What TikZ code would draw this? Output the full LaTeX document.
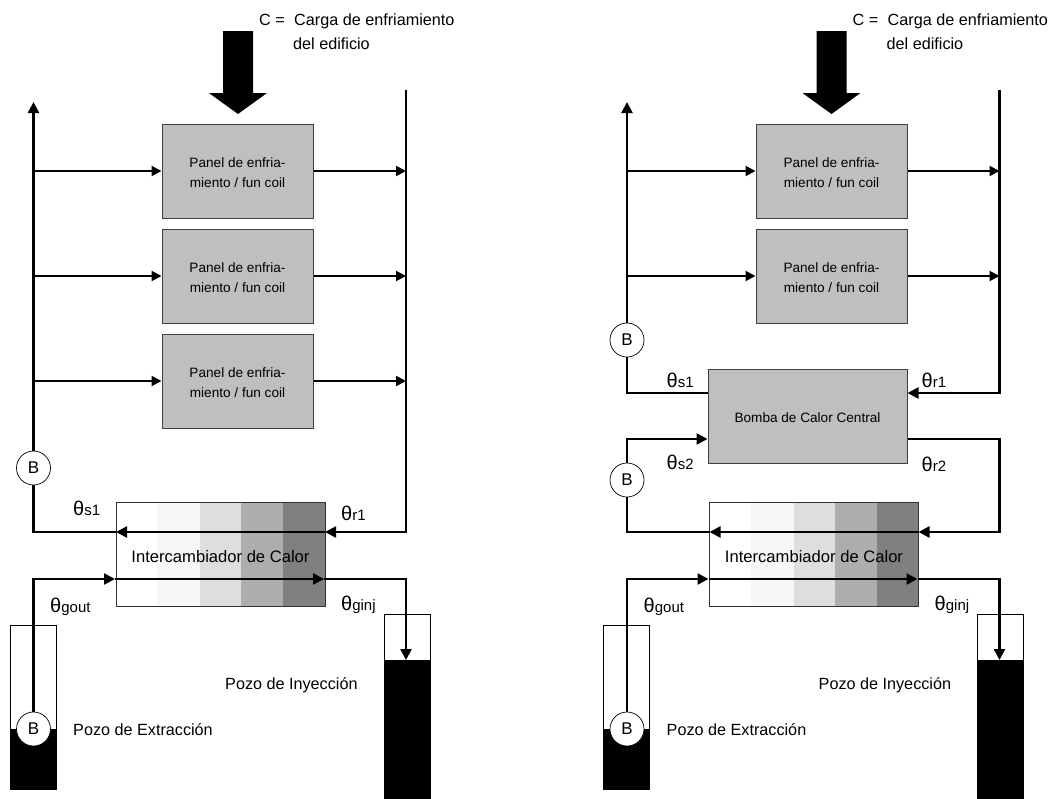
\documentclass[tikz,border=0pt]{standalone}
\usepackage{fontspec}
\setmainfont{Liberation Sans}
\usetikzlibrary{arrows.meta,calc}
\tikzset{
  pipe/.style={line width=2.4pt,line join=miter},
  flow/.style={pipe,-{Triangle[length=11pt,width=11pt]}},
  branch/.style={line width=2pt,-{Triangle[length=10pt,width=10pt]}},
  panelbox/.style={draw=black!75,line width=1pt,fill=black!25,minimum width=151pt,minimum height=94pt,inner sep=0pt,align=center,font=\fontsize{13.6}{20}\selectfont},
  pump/.style={circle,draw=black,line width=.7pt,fill=white,minimum size=34pt,inner sep=0pt,font=\fontsize{17}{17}\selectfont},
  lbl/.style={anchor=base west,inner sep=0pt,font=\fontsize{16.2}{16.2}\selectfont},
  theta/.style={anchor=base west,inner sep=0pt,font=\fontsize{20}{20}\selectfont},
  wellbox/.style={draw=black,line width=.8pt,fill=white},
}
\newcommand{\thsub}[1]{θ{\fontsize{15}{15}\selectfont #1}}
\newcommand{\panelname}{\rule{0pt}{13pt}Panel de enfria-\\miento / fun coil}
\newcommand{\common}{%
  % big load arrow
  \fill[black] (223,31) -- (253,31) -- (253,93) -- (267,93) -- (238,114) -- (209,93) -- (223,93) -- cycle;
  \node[lbl] (cA) at (259,25) {C =};
  \node[lbl] (cB) at (294,25) {Carga de enfriamiento};
  \node[lbl] (cC) at (293,49) {del edificio};
  % heat exchanger
  \fill[white] (116,502) rectangle (157,606);
  \fill[black!3] (157,502) rectangle (200,606);
  \fill[black!13] (200,502) rectangle (241,606);
  \fill[black!32] (241,502) rectangle (283,606);
  \fill[black!50] (283,502) rectangle (325,606);
  \node[draw=black!80,line width=1pt,minimum width=209pt,minimum height=104pt,inner sep=0pt,font=\fontsize{16.6}{16.6}\selectfont] (ex) at (220.5,554) {\rule{0pt}{18pt}Intercambiador de Calor};
  \coordinate (exWa) at (116,532);
  \coordinate (exEa) at (325,532);
  \coordinate (exWb) at (115,579);
  \coordinate (exEb) at (324,579);
  \draw[flow] (exEa) -- (exWa);
  \draw[flow] (exWb) -- (exEb);
  % wells
  \draw[wellbox] (10,625) rectangle (56,789);
  \fill[black] (10,729) rectangle (56,789);
  \draw[wellbox] (384,614) rectangle (430,798);
  \fill[black] (384,660) rectangle (430,798);
  \node[pump] (bw) at (33.5,729) {B};
  \coordinate (outc) at (33.5,579);
  \coordinate (injc) at (406,579);
  \coordinate (injt) at (406,660);
  \draw[flow] (bw.north) -- (outc) -- (exWb);
  \draw[flow] (exEb) -- (injc) -- (injt);
  % labels
  \node[theta] (tgo) at (50,612) {\thsub{gout}};
  \node[theta] (tgi) at (341,610) {\thsub{ginj}};
  \node[lbl] (pe) at (73,735) {Pozo de Extracción};
  \node[lbl] (pi) at (225,689) {Pozo de Inyección};
}
\begin{document}
\begin{tikzpicture}[x=1pt,y=-1pt]
\useasboundingbox (0,0) rectangle (1051,798);
\fill[white] (0,0) rectangle (1051,798);
% ===== left plant =====
\begin{scope}[name prefix=L-]
  \common
  \node[panelbox] (p1) at (237.5,171) {\panelname};
  \node[panelbox] (p2) at (237.5,276) {\panelname};
  \node[panelbox] (p3) at (237.5,381) {\panelname};
  \node[pump] (b) at (33.5,468) {B};
  \coordinate (top) at (33.5,102);
  \coordinate (rtop) at (406,90);
  \coordinate (lc) at (33.5,532);
  \coordinate (rc) at (406,532);
  \draw[pipe] (exWa) -- (lc) -- (b.south);
  \draw[flow] (b.north) -- (top);
  \draw[flow] (rtop) -- (rc) -- (exEa);
  \foreach \n in {p1,p2,p3}{
    \draw[branch] (lc|-\n.west) -- (\n.west);
    \draw[branch] (\n.east) -- (rc|-\n.east);
  }
  \node[theta] (ts) at (73,515) {\thsub{s1}};
  \node[theta] (tr) at (341,520) {\thsub{r1}};
\end{scope}
% ===== right plant =====
\begin{scope}[xshift=593.5pt,name prefix=R-]
  \common
  \node[panelbox] (p1) at (238,171) {\panelname};
  \node[panelbox] (p2) at (238,276) {\panelname};
  \node[panelbox,minimum width=199pt,minimum height=94pt] (hp) at (214,416) {\rule{0pt}{14pt}Bomba de Calor Central};
  \node[pump] (b1) at (33.5,340) {B};
  \node[pump] (b2) at (33.5,480) {B};
  \coordinate (top) at (33.5,102);
  \coordinate (rtop) at (406,90);
  \coordinate (l1) at (33.5,393);
  \coordinate (r1) at (406,393);
  \coordinate (l2) at (33.5,439);
  \coordinate (r2) at (406,439);
  \coordinate (lc) at (33.5,532);
  \coordinate (rc) at (406,532);
  \draw[pipe] (hp.west|-l1) -- (l1) -- (b1.south);
  \draw[flow] (b1.north) -- (top);
  \draw[flow] (rtop) -- (r1) -- (hp.east|-r1);
  \draw[flow] (hp.east|-r2) -- (r2) -- (rc) -- (exEa);
  \draw[pipe] (exWa) -- (lc) -- (b2.south);
  \draw[flow] (b2.north) -- (l2) -- (hp.west|-l2);
  \foreach \n in {p1,p2}{
    \draw[branch] (top|-\n.west) -- (\n.west);
    \draw[branch] (\n.east) -- (rtop|-\n.east);
  }
  \node[theta] (ts1) at (73,387) {\thsub{s1}};
  \node[theta] (tr1) at (328,387) {\thsub{r1}};
  \node[theta] (ts2) at (73,469) {\thsub{s2}};
  \node[theta] (tr2) at (328,471) {\thsub{r2}};
\end{scope}
\end{tikzpicture}
\end{document}
